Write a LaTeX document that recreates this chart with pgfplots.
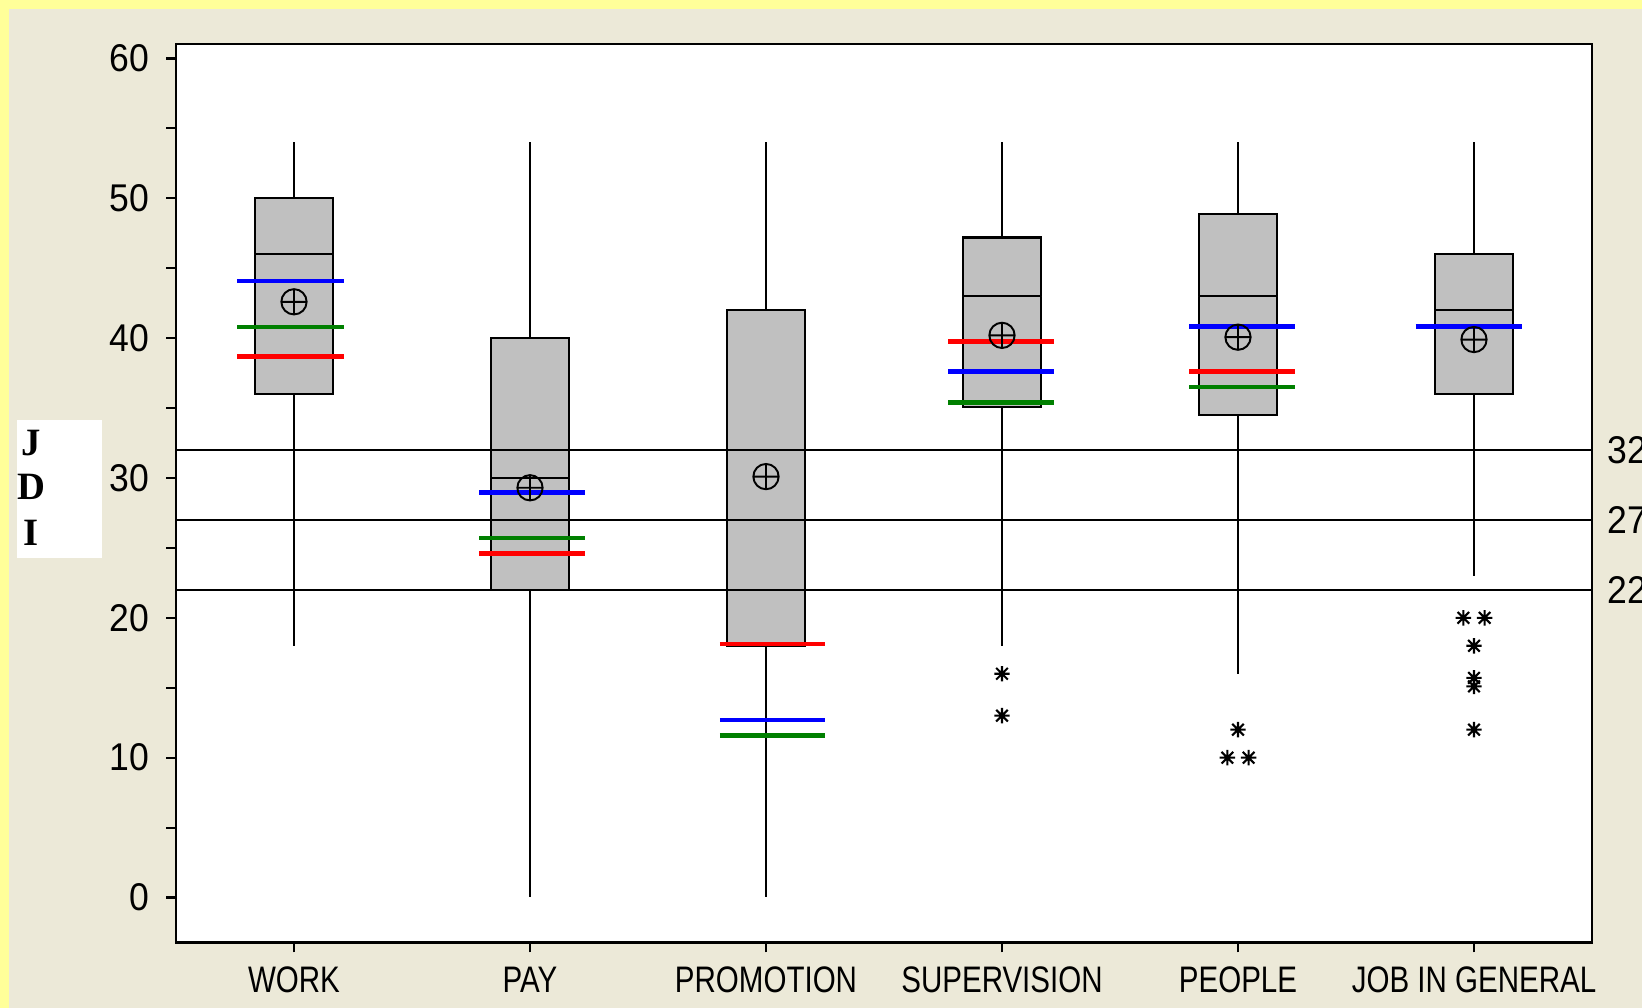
\documentclass[border=0pt]{standalone}
\usepackage{pgfplots}
\pgfplotsset{compat=1.18}
\usepgfplotslibrary{statistics}
\usepackage{fontspec}
\newfontfamily\tickfont[FakeStretch=0.92]{Liberation Sans}
\newfontfamily\catfont[FakeStretch=0.8]{Liberation Sans}
\newfontfamily\jdifont{Liberation Serif}
\definecolor{bgbeige}{RGB}{236,233,216}
\definecolor{bgyellow}{RGB}{255,255,153}
\definecolor{boxgray}{RGB}{192,192,192}
\definecolor{dgreen}{RGB}{0,128,0}
\pgfdeclareplotmark{mtbstar}{%
  \pgfpathmoveto{\pgfqpoint{0pt}{\pgfplotmarksize}}%
  \pgfpathlineto{\pgfqpoint{0pt}{-\pgfplotmarksize}}%
  \pgfpathmoveto{\pgfqpoint{-\pgfplotmarksize}{0pt}}%
  \pgfpathlineto{\pgfqpoint{\pgfplotmarksize}{0pt}}%
  \pgfpathmoveto{\pgfqpoint{-0.75\pgfplotmarksize}{0.75\pgfplotmarksize}}%
  \pgfpathlineto{\pgfqpoint{0.75\pgfplotmarksize}{-0.75\pgfplotmarksize}}%
  \pgfpathmoveto{\pgfqpoint{-0.75\pgfplotmarksize}{-0.75\pgfplotmarksize}}%
  \pgfpathlineto{\pgfqpoint{0.75\pgfplotmarksize}{0.75\pgfplotmarksize}}%
  \pgfusepathqstroke}
\pgfplotsset{
  mybox/.style={draw=black, fill=boxgray, line width=0.6pt, solid,
    boxplot/draw direction=y,
    boxplot/box extend=0.334, boxplot/whisker extend=0,
    boxplot/every median/.style={draw=black, line width=0.6pt}},
}
\begin{document}
\begin{tikzpicture}
\fill[bgbeige] (0,0) rectangle (164.2mm,100.8mm);
\fill[bgyellow] (0,0) rectangle (0.9mm,100.8mm);
\fill[bgyellow] (0,99.9mm) rectangle (164.2mm,100.8mm);
\fill[white] (1.7mm,45.0mm) rectangle (10.2mm,58.8mm);
\begin{scope}[every node/.style={inner sep=0pt, font=\jdifont\bfseries\fontsize{11}{11}\selectfont}]
\node at (3.1mm,56.5mm) {J};
\node at (3.1mm,52.1mm) {D};
\node at (3.1mm,47.5mm) {I};
\end{scope}
\begin{axis}[
  at={(17.6mm,6.55mm)}, anchor=south west,
  width=141.6mm, height=89.85mm, scale only axis,
  xmin=0.5, xmax=6.5, ymin=-3.22, ymax=61.04,
  axis background/.style={fill=white},
  axis line style={line width=0.6pt},
  xtick={1,2,3,4,5,6},
  xticklabels={WORK,PAY,PROMOTION,SUPERVISION,PEOPLE,JOB IN GENERAL},
  ytick={0,10,20,30,40,50,60},
  minor ytick={5,15,25,35,45,55},
  tick align=outside, tick pos=left,
  major tick length=1mm, minor tick length=1mm,
  every tick/.style={black, line width=0.6pt},
  /pgf/number format/assume math mode=true,
  yticklabel style={font=\tickfont\fontsize{11}{11}\selectfont, anchor=east, inner sep=0pt, xshift=-1.6mm},
  xticklabel style={font=\catfont\fontsize{10.5}{10.5}\selectfont, anchor=north, inner sep=0pt, yshift=-1.4mm},
  clip=false,
  unbounded coords=jump,
]
% boxes
\addplot[mybox, boxplot prepared={draw position=1, lower whisker=18, lower quartile=36, median=46, upper quartile=50, upper whisker=54}] coordinates {};
\addplot[mybox, boxplot prepared={draw position=2, lower whisker=0, lower quartile=22, median=30, upper quartile=40, upper whisker=54}] coordinates {};
\addplot[mybox, boxplot prepared={draw position=3, lower whisker=0, lower quartile=18, median=32, upper quartile=42, upper whisker=54}] coordinates {};
\addplot[mybox, boxplot prepared={draw position=4, lower whisker=18, lower quartile=35.1, median=43, upper quartile=47.2, upper whisker=54}] coordinates {};
\addplot[mybox, boxplot prepared={draw position=5, lower whisker=16, lower quartile=34.5, median=43, upper quartile=48.9, upper whisker=54}] coordinates {};
\addplot[mybox, boxplot prepared={draw position=6, lower whisker=23, lower quartile=36, median=42, upper quartile=46, upper whisker=54}] coordinates {};
% reference lines
\addplot[black, line width=0.45pt] coordinates {(0.5,32) (6.5,32)};
\addplot[black, line width=0.45pt] coordinates {(0.5,27) (6.5,27)};
\addplot[black, line width=0.45pt] coordinates {(0.5,22) (6.5,22)};
% coloured lines
\addplot[blue, line width=1.3pt] coordinates {
 (0.76,44.1) (1.21,44.1) (1,nan)
 (1.784,28.96) (2.231,28.96) (2,nan)
 (2.805,12.7) (3.252,12.7) (3,nan)
 (3.773,37.6) (4.221,37.6) (4,nan)
 (4.794,40.83) (5.242,40.83) (5,nan)
 (5.753,40.83) (6.202,40.83)};
\addplot[dgreen, line width=1.3pt] coordinates {
 (0.76,40.8) (1.21,40.8) (1,nan)
 (1.784,25.7) (2.231,25.7) (2,nan)
 (2.805,11.6) (3.252,11.6) (3,nan)
 (3.773,35.4) (4.221,35.4) (4,nan)
 (4.794,36.5) (5.242,36.5)};
\addplot[red, line width=1.3pt] coordinates {
 (0.76,38.7) (1.21,38.7) (1,nan)
 (1.784,24.6) (2.231,24.6) (2,nan)
 (2.805,18.13) (3.252,18.13) (3,nan)
 (3.773,39.76) (4.221,39.76) (4,nan)
 (4.794,37.6) (5.242,37.6)};
% means
\addplot[only marks, mark=oplus, mark size=3.6pt, mark options={draw=black, fill=none, line width=0.55pt}] coordinates {
 (1,42.6) (2,29.3) (3,30.1) (4,40.2) (5,40.07) (6,39.9)};
% outliers
\addplot[only marks, mark=mtbstar, mark size=2.2pt, mark options={black, line width=0.6pt}] coordinates {
 (4,16) (4,13)
 (5,12) (4.955,10) (5.045,10)
 (5.955,20) (6.045,20) (6,18) (6,15.7) (6,15.1) (6,12)};
% right labels
\node[anchor=west, inner sep=0pt, font=\tickfont\fontsize{11}{11}\selectfont] at ([xshift=1.5mm]axis cs:6.5,32) {32};
\node[anchor=west, inner sep=0pt, font=\tickfont\fontsize{11}{11}\selectfont] at ([xshift=1.5mm]axis cs:6.5,27) {27};
\node[anchor=west, inner sep=0pt, font=\tickfont\fontsize{11}{11}\selectfont] at ([xshift=1.5mm]axis cs:6.5,22) {22};
\end{axis}
\pgfresetboundingbox
\path[use as bounding box] (0,0) rectangle (164.2mm,100.8mm);
\end{tikzpicture}
\end{document}
